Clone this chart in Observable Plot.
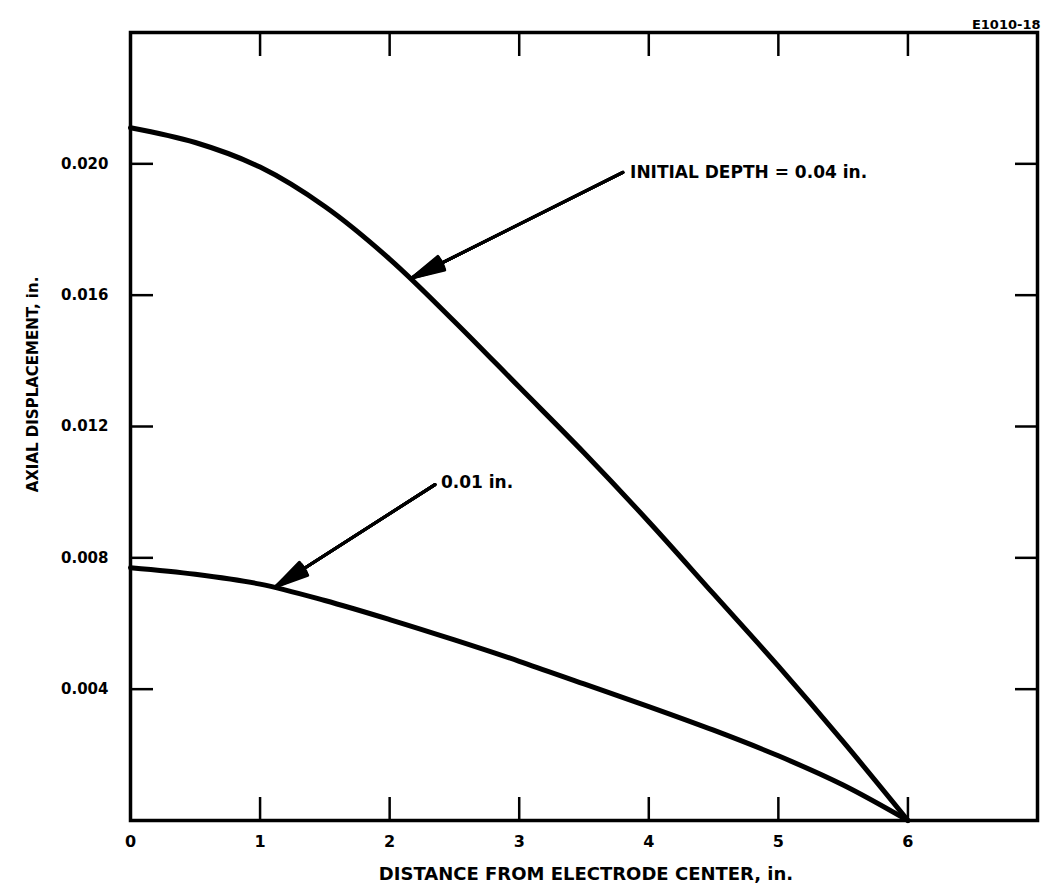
<!DOCTYPE html>
<html>
<head>
<meta charset="utf-8">
<script src="https://cdn.jsdelivr.net/npm/d3@7"></script>
<script src="https://cdn.jsdelivr.net/npm/@observablehq/plot@0.6"></script>
<style>
  html, body { margin: 0; padding: 0; background: #fff; }
  #chart svg { display: block; }
</style>
</head>
<body>
<div id="chart"></div>
<script>
// ---- data ----
const distance = [0, 0.5, 1, 1.5, 2, 2.5, 3, 3.5, 4, 4.5, 5, 5.5, 6];
const displacementDepth004 = [0.0211, 0.02065, 0.0199, 0.0187, 0.0171, 0.0152, 0.0132, 0.0112, 0.0091, 0.0069, 0.0047, 0.0024, 0.0];
const displacementDepth001 = [0.0077, 0.0075, 0.0072, 0.0067, 0.00612, 0.0055, 0.00485, 0.00416, 0.00347, 0.00275, 0.00197, 0.00108, 0.0];

const xTickValues = [0, 1, 2, 3, 4, 5, 6];
const xInnerTicks = [1, 2, 3, 4, 5, 6];
const yTickValues = [0.004, 0.008, 0.012, 0.016, 0.020];

const xAxisLabel = "DISTANCE FROM ELECTRODE CENTER, in.";
const yAxisLabel = "AXIAL DISPLACEMENT, in.";
const figureId = "E1010-18";

const annotationText = ["INITIAL DEPTH = 0.04 in.", "0.01 in."];
const annotationX = [3.84, 2.38];
const annotationY = [0.01974, 0.0103];
const arrowFromX = [3.80, 2.35];
const arrowFromY = [0.01974, 0.01023];
const arrowToX = [2.17, 1.12];
const arrowToY = [0.01652, 0.00712];

// ---- tables built from arrays ----
const curves = [
  ...distance.map((d, i) => ({series: "0.04", x: d, y: displacementDepth004[i]})),
  ...distance.map((d, i) => ({series: "0.01", x: d, y: displacementDepth001[i]}))
];
const notes = annotationText.map((t, i) => ({text: t, x: annotationX[i], y: annotationY[i]}));
const arrows = arrowFromX.map((_, i) => ({x1: arrowFromX[i], y1: arrowFromY[i], x2: arrowToX[i], y2: arrowToY[i]}));

const font = "'DejaVu Sans', sans-serif";
const headAngles = [4, 10, 16, 22, 26];

const chart = Plot.plot({
  width: 1041,
  height: 894,
  marginLeft: 130,
  marginRight: 4,
  marginTop: 32,
  marginBottom: 74,
  style: {fontFamily: font, background: "#fff", color: "#000"},
  x: {domain: [0, 7]},
  y: {domain: [0, 0.024]},
  marks: [
    Plot.frame({stroke: "#000", strokeWidth: 3.5}),
    // inward ticks on all four sides
    Plot.axisX({ticks: xInnerTicks, anchor: "bottom", tickSize: -23, strokeWidth: 2.5, fill: "none", label: null}),
    Plot.axisX({ticks: xInnerTicks, anchor: "top", tickSize: -23, strokeWidth: 2.5, fill: "none", label: null}),
    Plot.axisY({ticks: yTickValues, anchor: "left", tickSize: -23, strokeWidth: 2.5, fill: "none", label: null}),
    Plot.axisY({ticks: yTickValues, anchor: "right", tickSize: -23, strokeWidth: 2.5, fill: "none", label: null}),
    // tick labels
    Plot.axisX({ticks: xTickValues, anchor: "bottom", tickSize: 0, tickPadding: 15, label: null,
      fontSize: 16, fontWeight: "bold", tickFormat: d => String(d)}),
    Plot.axisY({ticks: yTickValues, anchor: "left", tickSize: 0, tickPadding: 22, label: null,
      fontSize: 15, fontWeight: "bold", tickFormat: d3.format(".3f")}),
    // axis titles
    Plot.text([xAxisLabel], {frameAnchor: "bottom", dx: 2, dy: 59, fontSize: 18, fontWeight: "bold",
      letterSpacing: "1px"}),
    Plot.text([yAxisLabel], {x: 0, y: 0.01328, rotate: -90, dx: -97, fontSize: 15, fontWeight: "bold",
      letterSpacing: "0.5px"}),
    Plot.text([figureId], {frameAnchor: "top-right", textAnchor: "end", dx: 3, dy: -13, fontSize: 13,
      fontWeight: "bold", letterSpacing: "1.5px"}),
    // curves
    Plot.line(curves, {x: "x", y: "y", z: "series", stroke: "#000", strokeWidth: 5, curve: "catmull-rom"}),
    // annotation arrows with filled-looking heads
    ...headAngles.map(a => Plot.arrow(arrows, {x1: "x1", y1: "y1", x2: "x2", y2: "y2",
      stroke: "#000", strokeWidth: 3, headAngle: a, headLength: 17})),
    Plot.text(notes, {x: "x", y: "y", text: "text", textAnchor: "start", dx: 2, fontSize: 17,
      fontWeight: "bold", letterSpacing: "1px"})
  ]
});
document.getElementById("chart").appendChild(chart);
</script>
</body>
</html>
